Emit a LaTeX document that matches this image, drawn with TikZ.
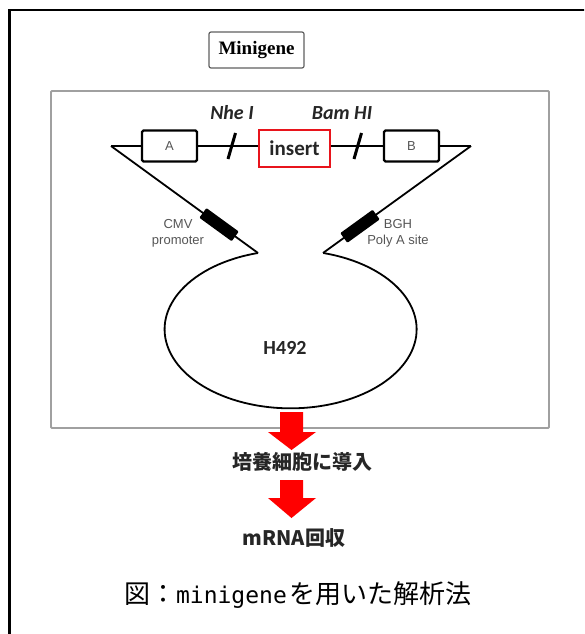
\documentclass[tikz,border=0pt]{standalone}
\usepackage{fontspec}
\newfontfamily\cjk{Noto Sans CJK JP}
\newfontfamily\calib{Carlito}
\newfontfamily\arialf{Liberation Sans}
\newfontfamily\tnr{Liberation Serif}
\newfontfamily\monof{DejaVu Sans Mono}
\definecolor{framegray}{HTML}{A0A0A0}
\definecolor{labelgray}{HTML}{555555}
\definecolor{arrred}{HTML}{FF0000}
\definecolor{insred}{HTML}{E8141C}
\begin{document}
\begin{tikzpicture}[x=1pt,y=1pt,
  wire/.style={line width=1.8pt, black},
  genebox/.style={draw=black, line width=2.4pt, rounded corners=1.5pt, minimum width=55pt, minimum height=31pt, inner sep=0pt, text=labelgray, font=\arialf\fontsize{13}{15}\selectfont},
  insbox/.style={draw=insred, line width=2.4pt, minimum width=71pt, minimum height=37pt, inner sep=0pt, font=\calib\bfseries\fontsize{21}{24}\selectfont, text=black!85},
  blk/.style={fill=black, minimum width=40pt, minimum height=12pt, inner sep=0pt, rounded corners=1pt},
  cutmark/.style={line width=3pt, black},
  sitelabel/.style={font=\calib\bfseries\itshape\fontsize{20}{24}\selectfont, text=black!85},
  smalllabel/.style={align=center, text=labelgray, font=\arialf\fontsize{13}{16}\selectfont},
  redarrow/.style={fill=arrred, draw=none},
  jtext/.style={font=\cjk\bfseries\fontsize{20}{24}\selectfont, text=black!85}
]
\useasboundingbox (0,0) rectangle (584,-634);
\begin{scope}
  \clip (0,0) rectangle (584,-634);
  \draw[line width=2.2pt, black] (9.5,-10) rectangle (640,-700);
\end{scope}

% inner frame
\draw[framegray, line width=1.8pt, rounded corners=1pt] (51,-91) rectangle (549,-428);

% title
\node[draw=gray!75!black, line width=1.2pt, rounded corners=2pt, minimum width=95pt, minimum height=36pt, inner sep=0pt,
      font=\tnr\bfseries\fontsize{19}{22}\selectfont] (title) at (256.5,-50) {Minigene};

% main wire
\coordinate (L) at (111,-146);
\coordinate (R) at (471,-146);
\node[genebox] (A) at (169.5,-146) {A};
\node[insbox] (ins) at (294.5,-148.5) {insert};
\node[genebox] (B) at (411.5,-146) {B};
\draw[wire] (L) -- (A.west);
\draw[wire] (A.east) -- (ins.west |- A.east);
\draw[wire] (ins.east |- B.west) -- (B.west);
\draw[wire] (B.east) -- (R);

% cut marks
\coordinate (n1) at (228,-159);
\coordinate (n2) at (235.5,-133);
\coordinate (b1) at (354,-159);
\coordinate (b2) at (361.5,-133);
\draw[cutmark] (n1) -- (n2);
\draw[cutmark] (b1) -- (b2);
\node[sitelabel] (nhe) at (232,-113) {Nhe I};
\node[sitelabel] (bam) at (342,-113) {Bam HI};

% diagonals and loop
\coordinate (P1) at (258,-253);
\coordinate (P2) at (323,-253);
\draw[wire] (L) -- (P1);
\draw[wire] (R) -- (P2);
\path (L) -- (P1) node[pos=0.735, sloped, blk] (cmv) {};
\path (R) -- (P2) node[pos=0.75, sloped, blk] (bgh) {};
\draw[wire] (P1) arc[start angle=105, end angle=435, x radius=126pt, y radius=79pt];

\node[smalllabel] (cmvl) at (178,-233) {CMV\\promoter};
\node[smalllabel] (bghl) at (398,-233) {BGH\\Poly A site};
\node[font=\calib\bfseries\fontsize{20}{24}\selectfont, text=black!85] (h) at (285,-348) {H492};

% red arrows
\fill[redarrow] (280,-412) -- (303,-412) -- (303,-432) -- (316,-432) -- (291.5,-450) -- (268,-432) -- (280,-432) -- cycle;
\fill[redarrow] (280,-480) -- (303,-480) -- (303,-498) -- (316,-498) -- (291.5,-518) -- (268,-498) -- (280,-498) -- cycle;

\node[jtext] (step1) at (302,-462) {培養細胞に導入};
\node[jtext] (step2) at (294,-538) {mRNA回収};

% caption
\node[font=\cjk\fontsize{26}{30}\selectfont, inner sep=0pt] (cap) at (298,-595)
  {図：{\monof\fontsize{23}{26}\selectfont minigene}\kern3pt を用いた解析法};
\end{tikzpicture}
\end{document}
